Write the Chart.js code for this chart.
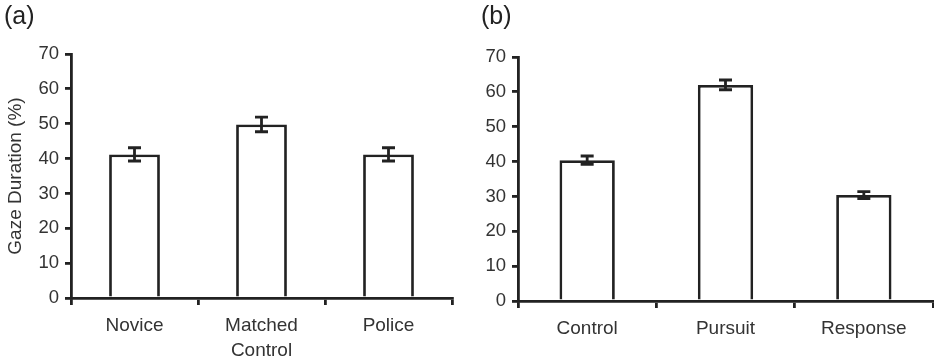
<!DOCTYPE html>
<html>
<head>
<meta charset="utf-8">
<script src="https://cdn.jsdelivr.net/npm/chart.js@4"></script>
<style>
  body { margin: 0; background: #fff; }
  .panel { position: absolute; top: 0; }
  .tag { position: absolute; top: 1px; font: 25px "Liberation Sans", Arial, sans-serif; color: #222; }
</style>
</head>
<body>
<div class="panel" style="left:0"><canvas id="chartA" width="465" height="364"></canvas></div>
<div class="panel" style="left:470px"><canvas id="chartB" width="464" height="364"></canvas></div>
<div class="tag" style="left:4px">(a)</div>
<div class="tag" style="left:481px">(b)</div>
<script>
var catsA = ["Novice", ["Matched", "Control"], "Police"];
var valsA = [41.2, 49.8, 41.2];
var errA = [1.9, 2.1, 1.9];

var catsB = ["Control", "Pursuit", "Response"];
var valsB = [40.4, 62.0, 30.4];
var errB = [1.2, 1.4, 1.0];

var yMin = 0, yMax = 70, yStep = 10;

var ink = "#222";
var tickFont = { family: "'Liberation Sans', Arial, sans-serif", size: 18.5 };
var labelFont = { family: "'Liberation Sans', Arial, sans-serif", size: 19, lineHeight: 1.32 };

// draws the error bars on top of each bar
var errorBars = {
  id: "errorBars",
  afterDatasetsDraw: function (chart, args, opts) {
    var ctx = chart.ctx;
    var y = chart.scales.y;
    var meta = chart.getDatasetMeta(0);
    var vals = chart.data.datasets[0].data;
    ctx.save();
    ctx.strokeStyle = ink;
    ctx.lineWidth = 2.8;
    meta.data.forEach(function (bar, i) {
      var top = y.getPixelForValue(vals[i] + opts.err[i]);
      var bot = y.getPixelForValue(vals[i] - opts.err[i]);
      ctx.beginPath();
      ctx.moveTo(bar.x, top);
      ctx.lineTo(bar.x, bot);
      ctx.moveTo(bar.x - 6.5, top);
      ctx.lineTo(bar.x + 6.5, top);
      ctx.moveTo(bar.x - 6.5, bot);
      ctx.lineTo(bar.x + 6.5, bot);
      ctx.stroke();
    });
    ctx.restore();
  },
};

function drawPanel(id, labels, values, err, cfg) {
  return new Chart(document.getElementById(id), {
    type: "bar",
    data: {
      labels: labels,
      datasets: [
        {
          data: values,
          backgroundColor: "#fff",
          borderColor: ink,
          borderWidth: 2.8,
          categoryPercentage: 1,
          barPercentage: 0.4,
        },
      ],
    },
    plugins: [errorBars],
    options: {
      responsive: false,
      animation: false,
      layout: { padding: { left: 0, right: cfg.right, top: cfg.top, bottom: 0 } },
      plugins: {
        legend: { display: false },
        tooltip: { enabled: false },
        errorBars: { err: err },
      },
      scales: {
        x: {
          afterFit: function (s) { s.height = cfg.xh; },
          border: { color: ink, width: 2.8 },
          grid: { drawOnChartArea: false, color: ink, lineWidth: 2.8, tickLength: 7 },
          ticks: { color: "#333", font: labelFont, padding: 8, maxRotation: 0 },
        },
        y: {
          min: yMin,
          max: yMax,
          afterFit: function (s) { s.width = cfg.yw; },
          border: { color: ink, width: 2.8 },
          grid: { drawOnChartArea: false, color: ink, lineWidth: 2.8, tickLength: 6 },
          ticks: { stepSize: yStep, color: "#333", font: tickFont, padding: 6 },
          title: {
            display: cfg.title !== "",
            text: cfg.title,
            color: "#333",
            font: { family: tickFont.family, size: 19 },
            padding: { top: 4, bottom: 0 },
          },
        },
      },
    },
  });
}

drawPanel("chartA", catsA, valsA, errA, { right: 13, top: 54, xh: 66, yw: 71, title: "Gaze Duration (%)" });
drawPanel("chartB", catsB, valsB, errB, { right: 1, top: 57, xh: 63, yw: 48, title: "" });
</script>
</body>
</html>
